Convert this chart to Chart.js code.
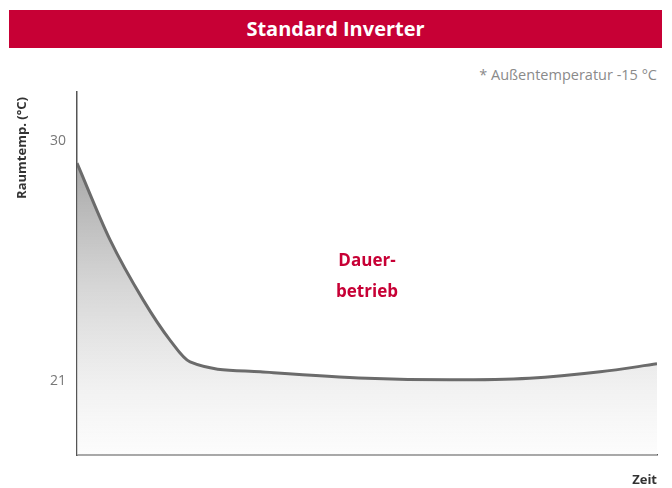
<!DOCTYPE html>
<html>
<head>
<meta charset="utf-8">
<script src="https://cdn.jsdelivr.net/npm/chart.js@4"></script>
<style>
  body { margin: 0; background: #fff; font-family: "Open Sans", sans-serif; }
  .wrap { position: relative; width: 672px; height: 488px; }
  .title-bar {
    position: absolute; left: 9px; top: 10px; width: 653px; height: 38px;
    background: #c70035; color: #fff; font-weight: bold; font-size: 20px;
    line-height: 38px; text-align: center;
  }
  .note {
    position: absolute; right: 15px; top: 65px; color: #8a8a8a; font-size: 14.5px;
  }
  canvas { position: absolute; left: 0; top: 0; }
</style>
</head>
<body>
<div class="wrap">
  <div class="title-bar">Standard Inverter</div>
  <div class="note">* Außentemperatur -15 °C</div>
  <canvas id="chart" width="672" height="488"></canvas>
</div>
<script>
// Raumtemperatur over time (time as 0..100)
const timeValues = [0, 5.7, 11.4, 16, 19.5, 31.6, 50, 64.3, 78, 90.2, 100];
const tempValues = [29.17, 26.29, 24.04, 22.54, 21.71, 21.34, 21.1, 21.04, 21.1, 21.34, 21.64];
const yTicks = [21, 30];

const labelsPlugin = {
  id: 'labels',
  afterDraw(chart) {
    const ctx = chart.ctx;
    const xs = chart.scales.x;
    const area = chart.chartArea;
    ctx.save();
    // Dauerbetrieb label
    ctx.fillStyle = '#c70035';
    ctx.font = 'bold 17px "Open Sans"';
    ctx.textAlign = 'center';
    ctx.textBaseline = 'middle';
    const cx = xs.getPixelForValue(50);
    ctx.fillText('Dauer-', cx, 261);
    ctx.fillText('betrieb', cx, 292);
    // x axis title
    ctx.fillStyle = '#333';
    ctx.font = 'bold 13px "Open Sans"';
    ctx.textAlign = 'right';
    ctx.fillText('Zeit', area.right, 480);
    // y axis title
    ctx.translate(22, 148);
    ctx.rotate(-Math.PI / 2);
    ctx.textAlign = 'center';
    ctx.fillText('Raumtemp. (°C)', 0, 0);
    ctx.restore();
  }
};

new Chart(document.getElementById('chart'), {
  type: 'line',
  data: {
    datasets: [{
      data: timeValues.map((t, i) => ({ x: t, y: tempValues[i] })),
      borderColor: '#6b6b6b',
      borderWidth: 3,
      pointRadius: 0,
      cubicInterpolationMode: 'monotone',
      fill: 'start',
      backgroundColor: (c) => {
        const area = c.chart.chartArea;
        if (!area) return '#ddd';
        const g = c.chart.ctx.createLinearGradient(0, area.top + 70, 0, area.bottom);
        g.addColorStop(0, 'rgba(150,150,150,0.85)');
        g.addColorStop(0.45, 'rgba(200,200,200,0.7)');
        g.addColorStop(0.8, 'rgba(235,235,235,0.6)');
        g.addColorStop(1, 'rgba(250,250,250,0.5)');
        return g;
      }
    }]
  },
  options: {
    responsive: false,
    animation: false,
    layout: { padding: { top: 92, right: 15, left: 0, bottom: 0 } },
    plugins: { legend: { display: false }, tooltip: { enabled: false } },
    scales: {
      x: {
        type: 'linear', min: 0, max: 100,
        grid: { display: false },
        border: { display: true, color: '#555', width: 1.5 },
        ticks: { display: false },
        afterFit: (s) => { s.height = 33; }
      },
      y: {
        min: 18.22, max: 31.84,
        grid: { display: false, drawTicks: false },
        border: { display: true, color: '#555', width: 1.5 },
        afterBuildTicks: (s) => { s.ticks = yTicks.map(v => ({ value: v })); },
        ticks: { color: '#777', font: { family: 'Open Sans', size: 14 }, padding: 11 },
        afterFit: (s) => { s.width = 77; }
      }
    }
  },
  plugins: [labelsPlugin]
});
</script>
</body>
</html>
